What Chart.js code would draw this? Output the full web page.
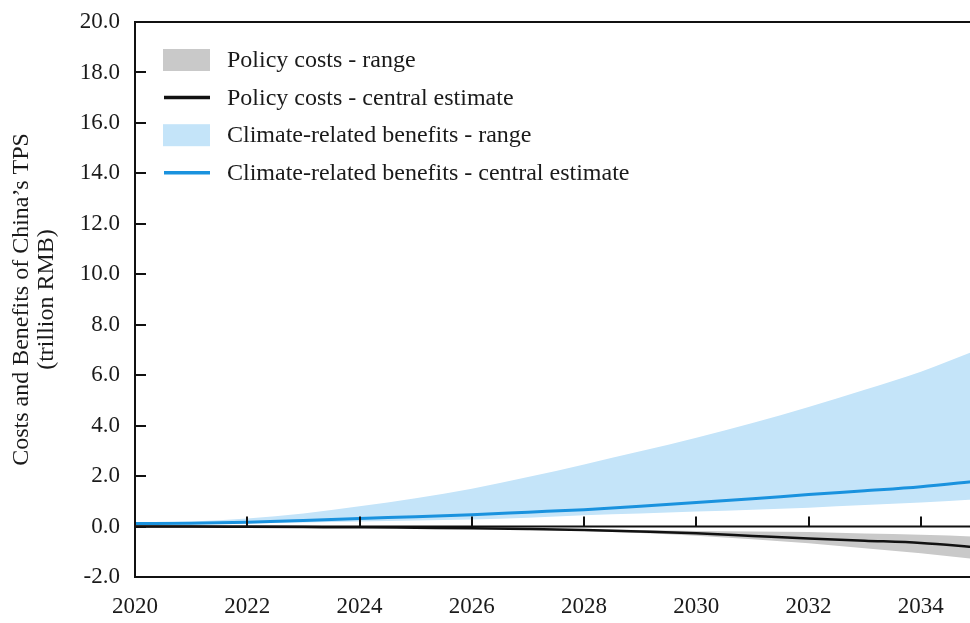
<!DOCTYPE html>
<html>
<head>
<meta charset="utf-8">
<script src="https://cdn.jsdelivr.net/npm/chart.js@4.4.1/dist/chart.umd.min.js"></script>
<style>
  html, body { margin: 0; padding: 0; background: #fff; overflow: hidden; }
  #wrap { width: 985px; height: 623px; position: relative; }
</style>
</head>
<body>
<div id="wrap"><canvas id="chart"></canvas></div>
<script>
// values, trillion RMB
const years = [2020, 2021, 2022, 2023, 2024, 2025, 2026, 2027, 2028, 2029, 2030, 2031, 2032, 2033, 2034, 2035];
const policyLow = [0, 0, -0.01, -0.02, -0.03, -0.05, -0.08, -0.12, -0.18, -0.26, -0.36, -0.5, -0.66, -0.86, -1.06, -1.3];
const policyHigh = [0, 0, -0.01, -0.02, -0.03, -0.04, -0.06, -0.08, -0.1, -0.14, -0.18, -0.2, -0.22, -0.28, -0.33, -0.4];
const policyMid = [0, 0, -0.01, -0.02, -0.03, -0.05, -0.07, -0.1, -0.14, -0.2, -0.27, -0.37, -0.47, -0.56, -0.65, -0.82];
const benefitLow = [0.1, 0.11, 0.13, 0.16, 0.2, 0.24, 0.28, 0.35, 0.45, 0.52, 0.6, 0.67, 0.75, 0.85, 0.95, 1.08];
const benefitHigh = [0.15, 0.2, 0.32, 0.52, 0.8, 1.12, 1.5, 1.96, 2.46, 2.98, 3.52, 4.1, 4.74, 5.42, 6.14, 7.0];
const benefitMid = [0.12, 0.13, 0.17, 0.24, 0.32, 0.39, 0.47, 0.57, 0.67, 0.8, 0.95, 1.1, 1.27, 1.42, 1.58, 1.8];

const xTicks = [2020, 2022, 2024, 2026, 2028, 2030, 2032, 2034];
const yTicks = [-2, 0, 2, 4, 6, 8, 10, 12, 14, 16, 18, 20];
const yTitle = ["Costs and Benefits of China\u2019s TPS", "(trillion RMB)"];

const serif = "'Liberation Serif', 'Times New Roman', serif";
const grey = "#c9c9c9";
const lightBlue = "#c4e4f9";
const blue = "#1a92de";

const pts = (vals) => years.map((y, i) => ({ x: y, y: vals[i] }));

// axis frame: left/bottom/top lines, zero line, inward ticks
const framePlugin = {
  id: "frame",
  afterDatasetsDraw(chart) {
    const { ctx, chartArea } = chart;
    const { left, right, top, bottom } = chartArea;
    const x = chart.scales.x, y = chart.scales.y;
    const y0 = y.getPixelForValue(0);
    ctx.save();
    ctx.strokeStyle = "#111";
    ctx.lineWidth = 2;
    ctx.beginPath();
    ctx.moveTo(left, top); ctx.lineTo(right, top);
    ctx.moveTo(left, bottom); ctx.lineTo(right, bottom);
    ctx.moveTo(left, top - 1); ctx.lineTo(left, bottom + 1);
    ctx.moveTo(left, y0); ctx.lineTo(right, y0);
    xTicks.slice(1).forEach((v) => {
      const px = Math.round(x.getPixelForValue(v));
      ctx.moveTo(px, y0); ctx.lineTo(px, y0 - 10);
    });
    yTicks.forEach((v) => {
      const py = Math.round(y.getPixelForValue(v));
      ctx.moveTo(left, py); ctx.lineTo(left + 11, py);
    });
    ctx.stroke();
    ctx.restore();
  }
};

// legend drawn inside the plot, top-left
const legendPlugin = {
  id: "insideLegend",
  afterDraw(chart) {
    const { ctx } = chart;
    const items = chart.data.datasets.filter((d) => d.label);
    ctx.save();
    ctx.font = "24px " + serif;
    ctx.textBaseline = "middle";
    items.forEach((d, i) => {
      const cy = 60 + i * 37.6;
      if (d.fill) {
        ctx.fillStyle = d.backgroundColor;
        ctx.fillRect(163, cy - 11, 47, 22);
      } else {
        ctx.strokeStyle = d.borderColor;
        ctx.lineWidth = 3.5;
        ctx.beginPath();
        ctx.moveTo(164, cy); ctx.lineTo(210, cy);
        ctx.stroke();
      }
      ctx.fillStyle = "#1a1a1a";
      ctx.fillText(d.label, 227, cy + 1);
    });
    ctx.restore();
  }
};

const ctx = document.getElementById("chart").getContext("2d");
new Chart(ctx, {
  type: "line",
  data: {
    datasets: [
      { label: "", data: pts(policyLow), borderWidth: 0, pointRadius: 0, fill: false, order: 2 },
      { label: "Policy costs - range", data: pts(policyHigh), borderWidth: 0, pointRadius: 0,
        fill: "-1", backgroundColor: grey, order: 2 },
      { label: "Policy costs - central estimate", data: pts(policyMid), borderColor: "#111",
        borderWidth: 2.5, pointRadius: 0, fill: false, order: 1 },
      { label: "", data: pts(benefitLow), borderWidth: 0, pointRadius: 0, fill: false, order: 3 },
      { label: "Climate-related benefits - range", data: pts(benefitHigh), borderWidth: 0, pointRadius: 0,
        fill: "-1", backgroundColor: lightBlue, order: 3 },
      { label: "Climate-related benefits - central estimate", data: pts(benefitMid), borderColor: blue,
        borderWidth: 3, pointRadius: 0, fill: false, order: 0 }
    ]
  },
  options: {
    responsive: true,
    maintainAspectRatio: false,
    animation: false,
    layout: { padding: { left: 0, top: 22, right: 8, bottom: 0 } },
    elements: { line: { cubicInterpolationMode: "monotone" } },
    plugins: { legend: { display: false }, tooltip: { enabled: false } },
    scales: {
      x: {
        type: "linear",
        min: 2020,
        max: 2035,
        afterBuildTicks: (s) => { s.ticks = xTicks.map((v) => ({ value: v })); },
        afterFit: (s) => { s.height = 46; s.paddingLeft = 0; s.paddingRight = 0; },
        grid: { display: false, drawTicks: false },
        border: { display: false },
        ticks: {
          padding: 16,
          color: "#1a1a1a",
          font: { family: serif, size: 23 },
          maxRotation: 0,
          callback: (v) => String(v)
        }
      },
      y: {
        min: -2,
        max: 20,
        afterBuildTicks: (s) => { s.ticks = yTicks.map((v) => ({ value: v })); },
        afterFit: (s) => { s.width = 135; s.paddingTop = 0; s.paddingBottom = 0; },
        grid: { display: false, drawTicks: false },
        border: { display: false },
        ticks: {
          padding: 15,
          color: "#1a1a1a",
          font: { family: serif, size: 23 },
          callback: (v) => v.toFixed(1)
        },
        title: {
          display: true,
          text: yTitle,
          color: "#1a1a1a",
          font: { family: serif, size: 24, lineHeight: 1.05 },
          padding: { top: 9, bottom: 0 }
        }
      }
    }
  },
  plugins: [framePlugin, legendPlugin]
});
</script>
</body>
</html>
